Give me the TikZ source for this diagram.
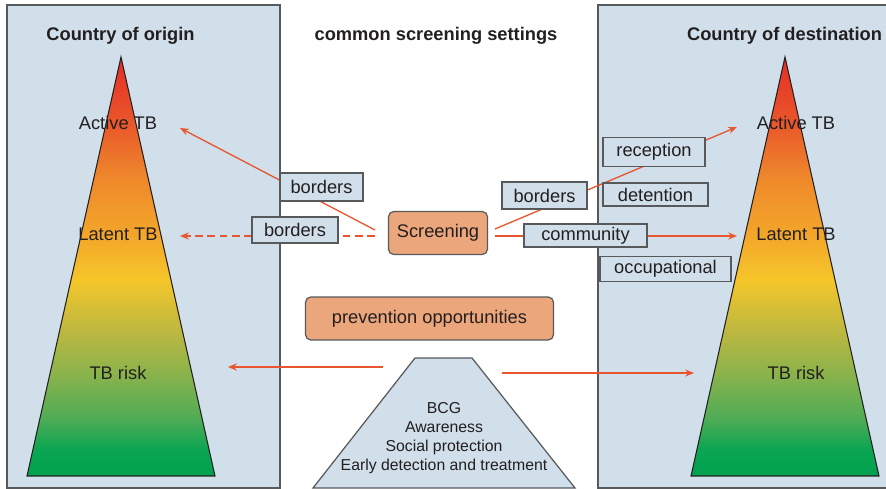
\documentclass[tikz,border=0pt]{standalone}
\usepackage{fontspec}
\setmainfont{Liberation Sans}
\usetikzlibrary{arrows.meta,positioning}

\definecolor{panelblue}{HTML}{D0DFE9}
\definecolor{edge}{HTML}{58595B}
\definecolor{ink}{HTML}{231F20}
\definecolor{boxorange}{HTML}{ECA67C}
\definecolor{arrowred}{HTML}{E8562F}

% risk gradient, green at the base up to red at the apex
\definecolor{g0}{HTML}{00A14F}
\definecolor{g1}{HTML}{0AA552}
\definecolor{g2}{HTML}{4DAB56}
\definecolor{g3}{HTML}{8BB34B}
\definecolor{g4}{HTML}{BDB840}
\definecolor{g5}{HTML}{F5C62A}
\definecolor{g6}{HTML}{F3A52A}
\definecolor{g7}{HTML}{EE8A2B}
\definecolor{g8}{HTML}{E9572A}
\definecolor{g9}{HTML}{E42D27}
\pgfdeclareverticalshading{tbgrad}{100bp}{color(0bp)=(g0); color(25bp)=(g0);
  color(28.1bp)=(g1); color(31.7bp)=(g2); color(37.3bp)=(g3); color(42.4bp)=(g4);
  color(48.4bp)=(g5); color(53.9bp)=(g6); color(60.3bp)=(g7); color(67.1bp)=(g8);
  color(75bp)=(g9); color(100bp)=(g9)}

\newcommand\tbfont{\fontsize{10.4}{12.5}\selectfont}
\newcommand\listfont{\fontsize{9}{10.8}\selectfont}

\begin{document}
\begin{tikzpicture}[
    x=0.02cm, y=-0.02cm,
    panel/.style={draw=edge, fill=panelblue, line width=0.8pt},
    setting/.style={rectangle, draw=edge, fill=panelblue, line width=0.7pt, inner sep=0pt, text=ink, font=\tbfont},
    action/.style={setting, fill=boxorange, rounded corners=3pt},
    level/.style={font=\tbfont, text=ink, inner sep=0pt},
    heading/.style={font=\tbfont\bfseries, text=ink, inner sep=0pt},
    arrow/.style={-{Stealth[length=5pt,width=4pt]}, draw=arrowred, line width=0.75pt}
]
\useasboundingbox (0,0) rectangle (886,489);

% the two countries
\draw[panel] (7,5) rectangle (280,488);
\draw[panel] (598,5) rectangle (900,488);

\shadedraw[shading=tbgrad, draw=ink, line width=0.6pt] (121,57) -- (215,476) -- (27,476) -- cycle;
\shadedraw[shading=tbgrad, draw=ink, line width=0.6pt] (785,57) -- (879,476) -- (691,476) -- cycle;

\node[heading] (origin) at (120.5,36) {Country of origin};
\node[heading] (settings) at (436,36) {common screening settings};
\node[heading] (dest) at (784.5,36) {Country of destination};

\node[level] (oActive) at (118,123) {Active TB};
\node[level] (oLatent) at (118,234) {Latent TB};
\node[level] (oRisk) at (118,373) {TB risk};
\node[level] (dActive) at (796,123) {Active TB};
\node[level] (dLatent) at (796,234) {Latent TB};
\node[level] (dRisk) at (796,373) {TB risk};

% arrow ends
\coordinate (scrOutA) at (375,230);
\coordinate (scrOutL) at (375,236);
\coordinate (scrInA) at (495,229);
\coordinate (scrInL) at (495,236);
\coordinate (oActiveTip) at (180,128);
\coordinate (oLatentTip) at (180,236);
\coordinate (dActiveTip) at (737,127);
\coordinate (dLatentTip) at (737,236);
\coordinate (prevOutL) at (383,367);
\coordinate (prevOutR) at (502,373);
\coordinate (oRiskTip) at (228,367);
\coordinate (dRiskTip) at (694,373);

\draw[arrow] (scrOutA) -- (oActiveTip);
\draw[arrow, dash pattern=on 4.5pt off 2.5pt] (scrOutL) -- (oLatentTip);
\draw[arrow] (scrInA) -- (dActiveTip);
\draw[arrow] (scrInL) -- (dLatentTip);
\draw[arrow] (prevOutL) -- (oRiskTip);
\draw[arrow] (prevOutR) -- (dRiskTip);

% settings boxes
\node[setting, minimum width=1.66cm, minimum height=0.56cm] (border1) at (321.5,187) {borders};
\node[setting, minimum width=1.72cm, minimum height=0.52cm] (border2) at (295,230) {borders};
\node[action, minimum width=1.98cm, minimum height=0.86cm] (screen) at (438,233) {Screening};
\node[setting, minimum width=1.70cm, minimum height=0.54cm] (border3) at (544.5,195.5) {borders};
\node[setting, minimum width=2.04cm, minimum height=0.58cm] (recept) at (654,152) {reception};
\node[setting, minimum width=2.10cm, minimum height=0.46cm] (detent) at (655.5,194.5) {detention};
\node[setting, minimum width=2.46cm, minimum height=0.46cm] (commun) at (585.5,235.5) {community};
\node[setting, minimum width=2.62cm, minimum height=0.50cm] (occup) at (665.5,269) {occupational};
\node[action, minimum width=4.96cm, minimum height=0.86cm] (prevent) at (429.5,318.5) {prevention opportunities};

% prevention measures
\coordinate (trapTL) at (415,358);
\coordinate (trapTR) at (472,358);
\coordinate (trapBR) at (575,488);
\coordinate (trapBL) at (313,488);
\draw[draw=edge, fill=panelblue, line width=0.7pt] (trapTL) -- (trapTR) -- (trapBR) -- (trapBL) -- cycle;
\node[align=center, font=\listfont, text=ink, inner sep=0pt] (measures) at (444,438.5)
  {BCG\\Awareness\\Social protection\\Early detection and treatment};
\end{tikzpicture}
\end{document}
